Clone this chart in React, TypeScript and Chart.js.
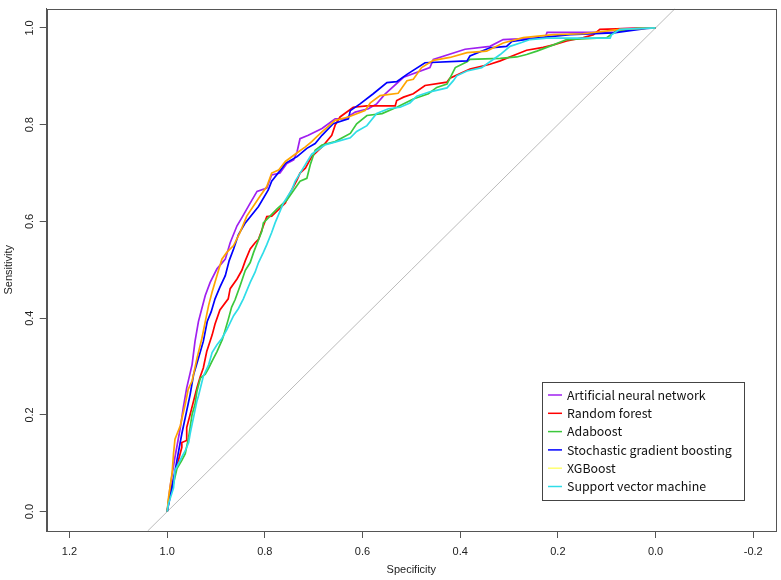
import React, { useEffect, useRef } from "react";
import { Chart, registerables } from "chart.js";
Chart.register(...registerables);

// ---- data ----
const seriesNames = [
  "Artificial neural network",
  "Random forest",
  "Adaboost",
  "Stochastic gradient boosting",
  "XGBoost",
  "Support vector machine",
];
const seriesColors = ["#A020F0", "#FF0000", "#3CC83C", "#0000FF", "#FFA500", "#30DDE8"];
const legendColors = ["#A020F0", "#FF0000", "#3CC83C", "#0000FF", "#FFFF70", "#30DDE8"];

const annSpec = [1.000,0.994,0.984,0.973,0.967,0.960,0.949,0.943,0.936,0.929,0.922,0.912,0.898,0.881,0.871,0.857,0.847,0.830,0.816,0.796,0.786,0.769,0.755,0.741,0.734,0.728,0.711,0.683,0.656,0.636,0.615,0.588,0.571,0.554,0.516,0.462,0.455,0.390,0.339,0.312,0.226,0.222,0.083,0.079,0];
const annSens = [0,0.051,0.113,0.174,0.215,0.256,0.304,0.352,0.393,0.420,0.447,0.474,0.502,0.522,0.556,0.591,0.608,0.638,0.662,0.669,0.696,0.700,0.720,0.727,0.744,0.771,0.778,0.792,0.812,0.812,0.826,0.833,0.843,0.863,0.898,0.918,0.935,0.956,0.962,0.976,0.980,0.991,0.991,0.998,1];

const rfSpec = [1.000,0.994,0.984,0.970,0.970,0.960,0.960,0.953,0.939,0.932,0.926,0.919,0.908,0.902,0.892,0.875,0.871,0.857,0.847,0.840,0.830,0.820,0.813,0.803,0.796,0.786,0.758,0.752,0.734,0.728,0.717,0.704,0.683,0.663,0.656,0.646,0.619,0.591,0.533,0.530,0.516,0.496,0.472,0.427,0.421,0.380,0.339,0.318,0.291,0.264,0.230,0.209,0.182,0.148,0.127,0.114,0.045,0];
const rfSens = [0,0.038,0.079,0.133,0.143,0.147,0.174,0.201,0.256,0.280,0.297,0.331,0.365,0.388,0.417,0.440,0.461,0.481,0.499,0.519,0.543,0.556,0.563,0.591,0.610,0.611,0.638,0.652,0.686,0.700,0.710,0.734,0.754,0.778,0.799,0.816,0.836,0.839,0.839,0.850,0.857,0.864,0.881,0.888,0.896,0.915,0.925,0.932,0.943,0.954,0.960,0.965,0.973,0.980,0.986,0.997,0.999,1];

const adaSpec = [1.000,0.997,0.987,0.980,0.970,0.963,0.956,0.949,0.943,0.939,0.932,0.922,0.915,0.908,0.898,0.887,0.881,0.875,0.868,0.861,0.851,0.840,0.830,0.823,0.806,0.803,0.775,0.755,0.728,0.714,0.707,0.697,0.683,0.656,0.625,0.612,0.591,0.560,0.530,0.496,0.465,0.448,0.427,0.410,0.386,0.380,0.318,0.284,0.264,0.243,0.209,0.182,0.100,0.083,0.038,0];
const adaSens = [0,0.024,0.058,0.089,0.106,0.120,0.154,0.201,0.222,0.249,0.276,0.284,0.297,0.311,0.331,0.356,0.376,0.397,0.423,0.438,0.466,0.499,0.515,0.536,0.580,0.597,0.626,0.644,0.683,0.689,0.717,0.747,0.758,0.765,0.782,0.802,0.819,0.823,0.836,0.853,0.864,0.877,0.884,0.918,0.930,0.935,0.937,0.940,0.945,0.952,0.965,0.976,0.980,0.992,0.999,1];

const sgbSpec = [1.000,0.990,0.980,0.970,0.953,0.946,0.939,0.932,0.926,0.918,0.910,0.902,0.892,0.881,0.873,0.864,0.854,0.840,0.813,0.793,0.786,0.765,0.758,0.734,0.714,0.697,0.683,0.660,0.629,0.625,0.605,0.578,0.550,0.530,0.509,0.472,0.386,0.380,0.339,0.305,0.294,0.236,0.175,0.086,0.018,0];
const sgbSens = [0,0.051,0.106,0.161,0.242,0.283,0.307,0.331,0.352,0.393,0.413,0.440,0.464,0.488,0.519,0.543,0.573,0.597,0.631,0.665,0.683,0.710,0.720,0.734,0.751,0.761,0.778,0.802,0.812,0.829,0.843,0.864,0.887,0.889,0.904,0.928,0.932,0.942,0.959,0.962,0.972,0.980,0.986,0.990,0.999,1];

const xgbSpec = [1.000,0.997,0.990,0.987,0.984,0.973,0.963,0.957,0.949,0.939,0.929,0.922,0.915,0.908,0.898,0.888,0.878,0.864,0.851,0.837,0.810,0.796,0.786,0.772,0.758,0.731,0.717,0.704,0.694,0.683,0.656,0.629,0.595,0.584,0.564,0.527,0.509,0.496,0.479,0.455,0.421,0.386,0.346,0.312,0.271,0.209,0.148,0.073,0];
const xgbSens = [0,0.031,0.079,0.120,0.150,0.178,0.222,0.253,0.270,0.317,0.358,0.393,0.427,0.454,0.488,0.522,0.536,0.550,0.577,0.611,0.652,0.672,0.700,0.706,0.724,0.744,0.754,0.765,0.775,0.785,0.809,0.816,0.829,0.845,0.860,0.865,0.891,0.894,0.918,0.933,0.939,0.949,0.952,0.969,0.980,0.986,0.988,0.997,1];

const svmSpec = [1.000,0.997,0.987,0.984,0.970,0.963,0.956,0.953,0.939,0.936,0.926,0.915,0.908,0.898,0.888,0.878,0.864,0.854,0.844,0.830,0.820,0.813,0.803,0.796,0.786,0.779,0.762,0.745,0.738,0.724,0.704,0.677,0.653,0.625,0.612,0.591,0.571,0.547,0.523,0.503,0.489,0.462,0.427,0.414,0.407,0.386,0.356,0.342,0.318,0.298,0.277,0.257,0.223,0.093,0.090,0.073,0];
const svmSens = [0,0.017,0.049,0.085,0.113,0.126,0.143,0.161,0.229,0.239,0.280,0.304,0.329,0.345,0.358,0.376,0.405,0.420,0.440,0.474,0.495,0.515,0.536,0.552,0.577,0.597,0.638,0.665,0.683,0.706,0.739,0.758,0.765,0.773,0.786,0.798,0.823,0.833,0.836,0.845,0.859,0.868,0.876,0.891,0.901,0.911,0.918,0.928,0.945,0.962,0.969,0.976,0.979,0.979,0.986,0.997,1];

const diagSpec = [1.04, -0.04];
const diagSens = [-0.04, 1.04];

const xTickValues = [1.2, 1.0, 0.8, 0.6, 0.4, 0.2, 0.0, -0.2];
const yTickValues = [0.0, 0.2, 0.4, 0.6, 0.8, 1.0];

const X_MIN = -0.2467;
const X_MAX = 1.2467;
const Y_MIN = -0.04;
const Y_MAX = 1.04;

const specs = [annSpec, rfSpec, adaSpec, sgbSpec, xgbSpec, svmSpec];
const senss = [annSens, rfSens, adaSens, sgbSens, xgbSens, svmSens];

const toPoints = (xs: number[], ys: number[]) => xs.map((x, i) => ({ x, y: ys[i] }));

const AXIS_FONT = { family: "'Liberation Sans', Arial, sans-serif", size: 11 };
const AXIS_COLOR = "#555555";
const TEXT_COLOR = "#222222";

const framePlugin = {
  id: "frameBox",
  afterDraw(chart: any) {
    const { ctx, chartArea } = chart;
    ctx.save();
    ctx.strokeStyle = AXIS_COLOR;
    ctx.lineWidth = 1;
    ctx.strokeRect(
      Math.round(chartArea.left) + 0.5,
      Math.round(chartArea.top) + 0.5,
      Math.round(chartArea.right - chartArea.left),
      Math.round(chartArea.bottom - chartArea.top)
    );
    ctx.restore();
  },
};

const legendPlugin = {
  id: "rocLegend",
  afterDraw(chart: any) {
    const { ctx } = chart;
    const bx = 542, by = 382, bw = 202, bh = 118;
    ctx.save();
    ctx.fillStyle = "#ffffff";
    ctx.fillRect(bx, by, bw, bh);
    ctx.strokeStyle = "#444444";
    ctx.lineWidth = 1;
    ctx.strokeRect(bx + 0.5, by + 0.5, bw, bh);
    ctx.font = "12.4px 'Noto Sans CJK KR', 'Noto Sans', sans-serif";
    ctx.textBaseline = "middle";
    ctx.textAlign = "left";
    seriesNames.forEach((name, i) => {
      const yy = by + 13 + i * 18.3;
      ctx.strokeStyle = legendColors[i];
      ctx.lineWidth = 1.5;
      ctx.beginPath();
      ctx.moveTo(bx + 6, yy);
      ctx.lineTo(bx + 20, yy);
      ctx.stroke();
      ctx.fillStyle = "#111111";
      ctx.fillText(name, bx + 25, yy);
    });
    ctx.restore();
  },
};

export default function App() {
  const canvasRef = useRef<HTMLCanvasElement | null>(null);

  useEffect(() => {
    if (!canvasRef.current) return;
    const datasets: any[] = [
      {
        label: "diagonal",
        data: toPoints(diagSpec, diagSens),
        borderColor: "#BBBBBB",
        borderWidth: 1,
        pointRadius: 0,
        showLine: true,
        order: 100,
      },
    ];
    seriesNames.forEach((name, i) => {
      datasets.push({
        label: name,
        data: toPoints(specs[i], senss[i]),
        borderColor: seriesColors[i],
        backgroundColor: seriesColors[i],
        borderWidth: 1.7,
        pointRadius: 0,
        showLine: true,
        tension: 0,
        order: 10 - i,
      });
    });

    const chart = new Chart(canvasRef.current, {
      type: "scatter",
      data: { datasets },
      options: {
        animation: false,
        responsive: false,
        events: [],
        layout: { padding: { left: 0, top: 3.3, right: 5, bottom: 0 } },
        plugins: {
          legend: { display: false },
          tooltip: { enabled: false },
          title: { display: false },
        },
        scales: {
          x: {
            type: "linear",
            reverse: true,
            min: X_MIN,
            max: X_MAX,
            afterBuildTicks: (s: any) => {
              s.ticks = xTickValues.map((v) => ({ value: v }));
            },
            afterFit: (s: any) => {
              s.height = 49;
            },
            grid: { drawOnChartArea: false, drawTicks: true, tickLength: 7, color: AXIS_COLOR, lineWidth: 1 },
            border: { display: true, color: AXIS_COLOR, width: 1 },
            ticks: {
              padding: 7,
              color: TEXT_COLOR,
              font: AXIS_FONT,
              maxRotation: 0,
              autoSkip: false,
              callback: (v: any) => Number(v).toFixed(1),
            },
            title: {
              display: true,
              text: "Specificity",
              color: TEXT_COLOR,
              font: AXIS_FONT,
              padding: { top: 0, bottom: 3 },
            },
          },
          y: {
            type: "linear",
            min: Y_MIN,
            max: Y_MAX,
            afterBuildTicks: (s: any) => {
              s.ticks = yTickValues.map((v) => ({ value: v }));
            },
            afterFit: (s: any) => {
              s.width = 46.7;
            },
            grid: { drawOnChartArea: false, drawTicks: true, tickLength: 7, color: AXIS_COLOR, lineWidth: 1 },
            border: { display: true, color: AXIS_COLOR, width: 1 },
            ticks: {
              padding: 2,
              color: TEXT_COLOR,
              font: AXIS_FONT,
              minRotation: 90,
              maxRotation: 90,
              crossAlign: "center",
              autoSkip: false,
              callback: (v: any) => Number(v).toFixed(1),
            },
            title: {
              display: true,
              text: "Sensitivity",
              color: TEXT_COLOR,
              font: AXIS_FONT,
              padding: { top: 2, bottom: 0 },
            },
          },
        },
      },
      plugins: [framePlugin, legendPlugin],
    });
    return () => chart.destroy();
  }, []);

  return (
    <div style={{ position: "absolute", left: 0, top: 0, width: 781, height: 580, background: "#fff" }}>
      <canvas ref={canvasRef} width={781} height={580} />
    </div>
  );
}
